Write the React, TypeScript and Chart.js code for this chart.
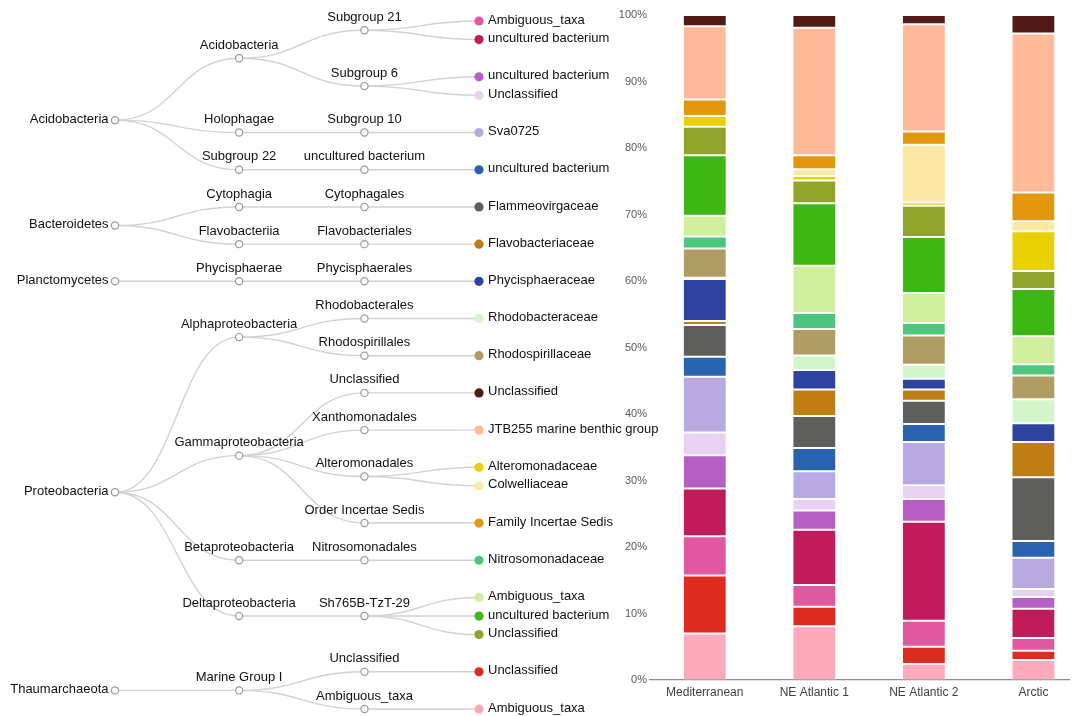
import React, { useEffect, useRef } from "react";
import { Chart, registerables } from "chart.js";

Chart.register(...registerables);

// Sampling sites (bar categories)
const sites = ["Mediterranean", "NE Atlantic 1", "NE Atlantic 2", "Arctic"];

// Taxonomic paths: phylum / class / order / family (tree order, top to bottom)
const taxonPaths: string[][] = [
  ["Acidobacteria", "Acidobacteria", "Subgroup 21", "Ambiguous_taxa"],
  ["Acidobacteria", "Acidobacteria", "Subgroup 21", "uncultured bacterium"],
  ["Acidobacteria", "Acidobacteria", "Subgroup 6", "uncultured bacterium"],
  ["Acidobacteria", "Acidobacteria", "Subgroup 6", "Unclassified"],
  ["Acidobacteria", "Holophagae", "Subgroup 10", "Sva0725"],
  ["Acidobacteria", "Subgroup 22", "uncultured bacterium", "uncultured bacterium"],
  ["Bacteroidetes", "Cytophagia", "Cytophagales", "Flammeovirgaceae"],
  ["Bacteroidetes", "Flavobacteriia", "Flavobacteriales", "Flavobacteriaceae"],
  ["Planctomycetes", "Phycisphaerae", "Phycisphaerales", "Phycisphaeraceae"],
  ["Proteobacteria", "Alphaproteobacteria", "Rhodobacterales", "Rhodobacteraceae"],
  ["Proteobacteria", "Alphaproteobacteria", "Rhodospirillales", "Rhodospirillaceae"],
  ["Proteobacteria", "Gammaproteobacteria", "Unclassified", "Unclassified"],
  ["Proteobacteria", "Gammaproteobacteria", "Xanthomonadales", "JTB255 marine benthic group"],
  ["Proteobacteria", "Gammaproteobacteria", "Alteromonadales", "Alteromonadaceae"],
  ["Proteobacteria", "Gammaproteobacteria", "Alteromonadales", "Colwelliaceae"],
  ["Proteobacteria", "Gammaproteobacteria", "Order Incertae Sedis", "Family Incertae Sedis"],
  ["Proteobacteria", "Betaproteobacteria", "Nitrosomonadales", "Nitrosomonadaceae"],
  ["Proteobacteria", "Deltaproteobacteria", "Sh765B-TzT-29", "Ambiguous_taxa"],
  ["Proteobacteria", "Deltaproteobacteria", "Sh765B-TzT-29", "uncultured bacterium"],
  ["Proteobacteria", "Deltaproteobacteria", "Sh765B-TzT-29", "Unclassified"],
  ["Thaumarchaeota", "Marine Group I", "Unclassified", "Unclassified"],
  ["Thaumarchaeota", "Marine Group I", "Ambiguous_taxa", "Ambiguous_taxa"],
];

const taxonColors = [
  "#E157A0", "#C01C5C", "#B65EC4", "#E8D2F4", "#B7AAE3", "#2A63AD",
  "#5E5E5C", "#BF7E13", "#2E43A0", "#D2F5CA", "#B09D63", "#521A17",
  "#FFBA9A", "#E8D100", "#FDE8A3", "#E3970C", "#4CC67C", "#CFEF9D",
  "#3CB714", "#90A42A", "#DE2B1F", "#FFA9BC",
];

// Stacking order of the bars, bottom to top (indices into taxonPaths)
const stackOrder = [21, 20, 0, 1, 2, 3, 4, 5, 6, 7, 8, 9, 10, 16, 17, 18, 19, 13, 14, 15, 12, 11];

// Relative abundance (%) per site, listed in stackOrder
const mediterranean = [7.0, 8.7, 5.9, 7.2, 5.0, 3.4, 8.4, 3.0, 4.8, 0.6, 6.3, 0.2, 4.4, 1.8, 3.1, 9.1, 4.3, 1.6, 0.0, 2.5, 11.0, 1.7];
const neAtlantic1 = [8.1, 2.9, 3.3, 8.3, 2.9, 1.7, 4.2, 3.5, 4.8, 4.0, 2.9, 2.2, 4.0, 2.4, 7.1, 9.4, 3.4, 0.7, 1.0, 2.1, 19.2, 1.9];
const neAtlantic2 = [2.4, 2.6, 3.9, 14.9, 3.4, 2.1, 6.5, 2.7, 3.5, 1.7, 1.6, 2.1, 4.4, 1.9, 4.5, 8.4, 4.7, 0.5, 8.7, 2.0, 16.1, 1.4];
const arctic = [3.0, 1.4, 1.9, 4.4, 1.8, 1.2, 4.7, 2.5, 9.6, 5.3, 2.8, 3.6, 3.6, 1.7, 4.2, 7.1, 2.7, 6.0, 1.5, 4.3, 23.9, 2.8];
const siteSeries = [mediterranean, neAtlantic1, neAtlantic2, arctic];

// Y axis tick values (%)
const percentTicks = [0, 10, 20, 30, 40, 50, 60, 70, 80, 90, 100];

// Horizontal column of each tree depth (phylum, class, order, family)
const columnX = [0, 1.023, 2.056, 3];

type TNode = {
  name: string;
  depth: number;
  children: TNode[];
  y: number;
  parent?: TNode;
  leafIndex?: number;
};

function buildTree() {
  const roots: TNode[] = [];
  const all: TNode[] = [];
  const byKey = new Map<string, TNode>();
  const leaves: TNode[] = [];
  taxonPaths.forEach((path, li) => {
    let siblings = roots;
    let parent: TNode | undefined;
    path.forEach((name, d) => {
      const key = path.slice(0, d + 1).join("|");
      let node = byKey.get(key);
      if (!node) {
        node = { name, depth: d, children: [], y: 0, parent };
        byKey.set(key, node);
        siblings.push(node);
        all.push(node);
      }
      parent = node;
      siblings = node.children;
    });
    parent!.leafIndex = li;
    leaves.push(parent!);
  });
  // cluster layout: siblings one slot apart, cousins two slots apart
  let slot = 0;
  leaves.forEach((leaf, i) => {
    if (i > 0) slot += leaf.parent === leaves[i - 1].parent ? 1 : 2;
    leaf.y = slot;
  });
  const place = (n: TNode): number => {
    if (n.children.length === 0) return n.y;
    const ys = n.children.map(place);
    n.y = ys.reduce((a, b) => a + b, 0) / ys.length;
    return n.y;
  };
  roots.forEach(place);
  return { roots, all, leaves, maxSlot: slot };
}

const FONT = "13px 'Liberation Sans', Arial, sans-serif";

function TreeChart() {
  const ref = useRef<HTMLCanvasElement>(null);
  useEffect(() => {
    const { all, leaves, maxSlot } = buildTree();
    const internal = all.filter((n) => n.children.length > 0);

    const treePlugin = {
      id: "taxonTree",
      beforeDatasetsDraw(chart: any) {
        const { ctx, scales } = chart;
        const sx = scales.x;
        const sy = scales.y;
        ctx.save();
        ctx.strokeStyle = "#d2d2d2";
        ctx.lineWidth = 1.4;
        internal.forEach((n) => {
          const x0 = sx.getPixelForValue(columnX[n.depth]);
          const y0 = sy.getPixelForValue(n.y);
          n.children.forEach((c) => {
            const x1 = sx.getPixelForValue(columnX[c.depth]);
            const y1 = sy.getPixelForValue(c.y);
            const mx = (x0 + x1) / 2;
            ctx.beginPath();
            ctx.moveTo(x0, y0);
            ctx.bezierCurveTo(mx, y0, mx, y1, x1, y1);
            ctx.stroke();
          });
        });
        ctx.restore();
      },
      afterDatasetsDraw(chart: any) {
        const { ctx, scales } = chart;
        const sx = scales.x;
        const sy = scales.y;
        ctx.save();
        ctx.font = FONT;
        ctx.fillStyle = "#111";
        all.forEach((n) => {
          const px = sx.getPixelForValue(columnX[n.depth]);
          const py = sy.getPixelForValue(n.y);
          if (n.depth === 0) {
            ctx.textAlign = "right";
            ctx.textBaseline = "middle";
            ctx.fillText(n.name, px - 6.5, py - 1);
          } else if (n.children.length > 0) {
            ctx.textAlign = "center";
            ctx.textBaseline = "middle";
            ctx.fillText(n.name, px, py - 13);
          } else {
            ctx.textAlign = "left";
            ctx.textBaseline = "middle";
            ctx.fillText(n.name, px + 9, py - 1);
          }
        });
        ctx.restore();
      },
    };

    const chart = new Chart(ref.current!, {
      type: "scatter",
      data: {
        datasets: [
          {
            data: internal.map((n) => ({ x: columnX[n.depth], y: n.y })),
            pointRadius: 3.6,
            pointBackgroundColor: "#ffffff",
            pointBorderColor: "#9a9a9a",
            pointBorderWidth: 1.2,
            clip: false as any,
          },
          {
            data: leaves.map((n) => ({ x: columnX[n.depth], y: n.y })),
            pointRadius: 4.6,
            pointBackgroundColor: leaves.map((n) => taxonColors[n.leafIndex!]),
            pointBorderWidth: 0,
            clip: false as any,
          },
        ],
      },
      options: {
        animation: false,
        responsive: false,
        events: [],
        layout: { padding: { left: 115, right: 181, top: 21, bottom: 7 } },
        plugins: { legend: { display: false }, tooltip: { enabled: false } },
        scales: {
          x: { type: "linear", min: 0, max: columnX[3], display: false },
          y: { type: "linear", min: 0, max: maxSlot, reverse: true, display: false },
        },
      },
      plugins: [treePlugin],
    });
    return () => chart.destroy();
  }, []);
  return (
    <canvas
      ref={ref}
      width={660}
      height={716}
      style={{ position: "absolute", left: 0, top: 0 }}
    />
  );
}

function AbundanceChart() {
  const ref = useRef<HTMLCanvasElement>(null);
  useEffect(() => {
    const datasets = stackOrder.map((ti, k) => ({
      label: taxonPaths[ti][3],
      data: siteSeries.map((s, i) => ({ x: i, y: s[k] })),
      backgroundColor: taxonColors[ti],
      borderColor: "rgba(255,255,255,0.22)",
      borderWidth: 1,
      borderSkipped: false as any,
      barPercentage: 0.5,
      categoryPercentage: 0.8,
    }));
    const chart = new Chart(ref.current!, {
      type: "bar",
      data: { datasets },
      options: {
        animation: false,
        responsive: false,
        events: [],
        layout: { padding: { left: 0, right: 9, top: 15, bottom: 0 } },
        plugins: { legend: { display: false }, tooltip: { enabled: false } },
        scales: {
          x: {
            type: "linear",
            stacked: true,
            offset: false,
            min: -0.5,
            max: sites.length - 0.675,
            grid: { display: false, drawTicks: false },
            border: { display: true, color: "#8c8c8c", width: 1.2 },
            afterBuildTicks: (axis: any) => {
              axis.ticks = sites.map((_, i) => ({ value: i }));
            },
            afterFit: (axis: any) => {
              axis.height = 36;
            },
            ticks: {
              autoSkip: false,
              maxRotation: 0,
              padding: 5,
              color: "#404040",
              font: { family: "'Liberation Sans', Arial, sans-serif", size: 12 },
              callback: (v: any) => sites[v] ?? "",
            },
          },
          y: {
            type: "linear",
            stacked: true,
            min: 0,
            max: 100,
            grid: { display: false, drawTicks: false },
            border: { display: false },
            afterBuildTicks: (axis: any) => {
              axis.ticks = percentTicks.map((v) => ({ value: v }));
            },
            afterFit: (axis: any) => {
              axis.width = 50;
            },
            ticks: {
              padding: 3,
              color: "#595959",
              font: { family: "'Liberation Sans', Arial, sans-serif", size: 11 },
              callback: (v: any) => v + "%",
            },
          },
        },
      },
    });
    return () => chart.destroy();
  }, []);
  return (
    <canvas
      ref={ref}
      width={478}
      height={716}
      style={{ position: "absolute", left: 600, top: 0 }}
    />
  );
}

export default function App() {
  return (
    <div
      style={{
        position: "absolute",
        left: 0,
        top: 0,
        width: 1078,
        height: 716,
        background: "#ffffff",
        overflow: "hidden",
      }}
    >
      <TreeChart />
      <AbundanceChart />
    </div>
  );
}
